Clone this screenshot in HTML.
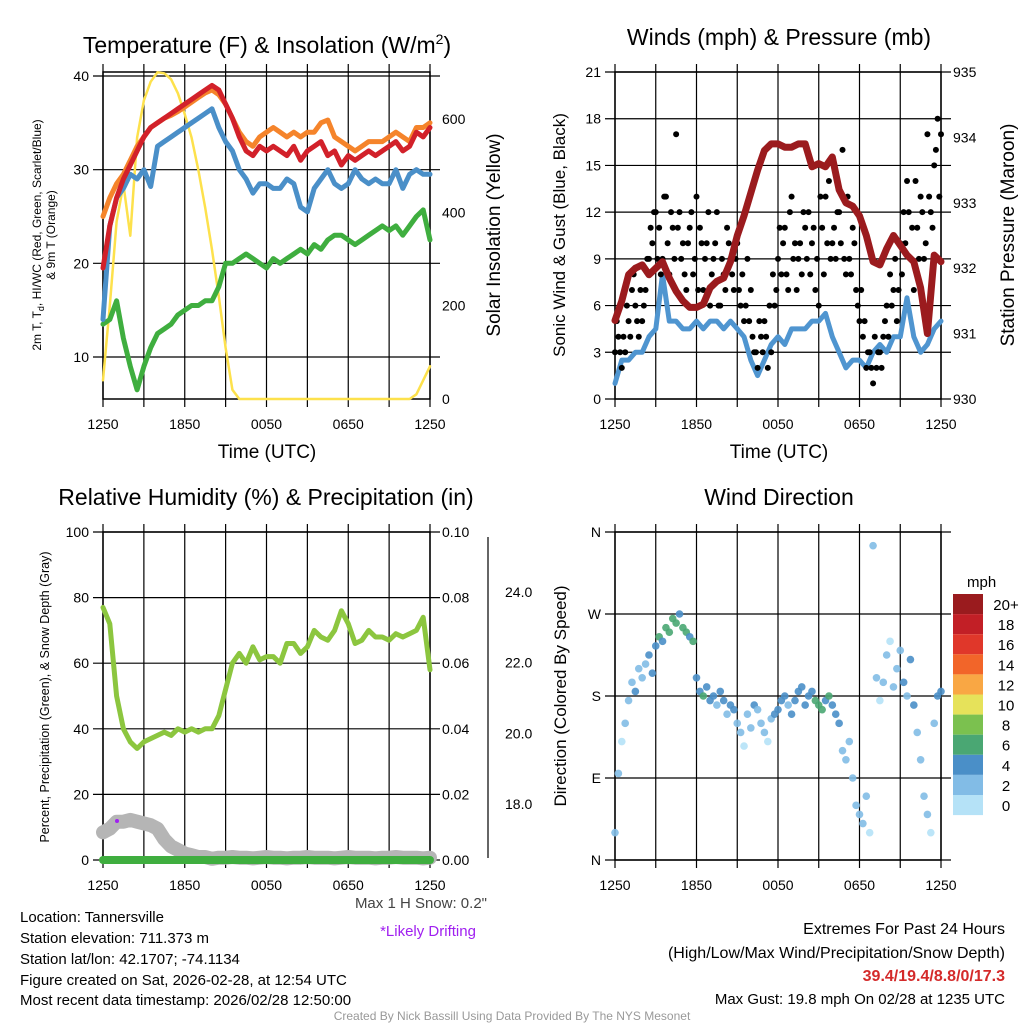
<!DOCTYPE html>
<html><head><meta charset="utf-8"><style>
html,body{margin:0;padding:0;background:#fff;}
svg{display:block;font-family:"Liberation Sans",sans-serif;}
</style></head><body>
<svg id="s" width="1024" height="1024" viewBox="0 0 1024 1024">
<g id="grids"></g>
<g id="marks"></g>
<g id="texts" fill="#000">
<text x="267" y="53" font-size="23" text-anchor="middle">Temperature (F) &amp; Insolation (W/m<tspan font-size="14" dy="-9">2</tspan><tspan dy="9">)</tspan></text>
<text x="779" y="45" font-size="23" text-anchor="middle">Winds (mph) &amp; Pressure (mb)</text>
<text x="266" y="505" font-size="23" text-anchor="middle">Relative Humidity (%) &amp; Precipitation (in)</text>
<text x="779" y="505" font-size="23" text-anchor="middle">Wind Direction</text>
<text x="267" y="458" font-size="19" text-anchor="middle">Time (UTC)</text>
<text x="779" y="458" font-size="19" text-anchor="middle">Time (UTC)</text>
<text transform="translate(41,235) rotate(-90)" font-size="12" text-anchor="middle">2m T, T<tspan font-size="9" dy="3">d</tspan><tspan dy="-3">, HI/WC (Red, Green, Scarlet/Blue)</tspan></text>
<text transform="translate(55,235) rotate(-90)" font-size="12" text-anchor="middle">&amp; 9m T (Orange)</text>
<text transform="translate(500,235) rotate(-90)" font-size="19" text-anchor="middle">Solar Insolation (Yellow)</text>
<text transform="translate(565,235) rotate(-90)" font-size="17" text-anchor="middle">Sonic Wind &amp; Gust (Blue, Black)</text>
<text transform="translate(1014,235) rotate(-90)" font-size="19" text-anchor="middle">Station Pressure (Maroon)</text>
<text transform="translate(49,697) rotate(-90)" font-size="12.5" text-anchor="middle">Percent, Precipitation (Green), &amp; Snow Depth (Gray)</text>
<text transform="translate(566,696) rotate(-90)" font-size="17" text-anchor="middle">Direction (Colored By Speed)</text>
<text x="487" y="908" font-size="15" text-anchor="end" fill="#444">Max 1 H Snow: 0.2"</text>
<text x="428" y="936" font-size="15" text-anchor="middle" fill="#a020f0">*Likely Drifting</text>
<g font-size="15">
<text x="20" y="922">Location: Tannersville</text>
<text x="20" y="943">Station elevation: 711.373 m</text>
<text x="20" y="964">Station lat/lon: 42.1707; -74.1134</text>
<text x="20" y="985">Figure created on Sat, 2026-02-28, at 12:54 UTC</text>
<text x="20" y="1005">Most recent data timestamp: 2026/02/28 12:50:00</text>
</g>
<g font-size="16" text-anchor="end">
<text x="1005" y="934">Extremes For Past 24 Hours</text>
<text x="1005" y="958">(High/Low/Max Wind/Precipitation/Snow Depth)</text>
<text x="1005" y="981" fill="#d42a2a" font-weight="bold">39.4/19.4/8.8/0/17.3</text>
<text x="1005" y="1004" font-size="15">Max Gust: 19.8 mph On 02/28 at 1235 UTC</text>
</g>
<text x="512" y="1020" font-size="12" text-anchor="middle" fill="#999">Created By Nick Bassill Using Data Provided By The NYS Mesonet</text>
<text x="967" y="587" font-size="15">mph</text>
</g>
</svg>
<script>
// ---- data (half-hourly, 1250 UTC -> 1250 UTC) ----
const timeLabels = ["1250","1850","0050","0650","1250"];
const tempRed = [19.5,24,27,29,30.5,32,33.5,34.5,35,35.5,36,36.5,37,37.5,38,38.5,39,38.5,37,35.5,33.5,32,31.5,32.5,32,32.5,32,31.5,32.5,31,32,32.5,33,31.5,32,30.5,31.5,31,31.5,32,31.5,32,32.5,33,32,32.5,34,33.5,34.5];
const tempOrange = [25,27,28.5,29.5,31,32.5,33.5,34.5,35,35.5,35.8,36.2,36.7,37.2,37.7,38.2,38.5,38,37,35.5,34,33,32.5,33.5,34,34.5,34,33.5,34,33.5,34,34,35,35.3,33.5,33,32.5,32,32.5,33,33,33,33.5,34,33.5,33,34.5,34.5,35];
const tempBlue = [14,24,27,28,29.5,29,30,28.2,32.5,33,33.5,34,34.5,35,35.5,36,36.5,34.5,33,32,30,29,27.5,28.5,28.5,28,28,29,28.5,26,25.5,28,29,30,28.5,28,28.5,30,29,28.5,29,28.5,28.5,30,28,29.5,30,29.5,29.5];
const tempGreen = [13.5,14,16,12,9,6.5,9,11,12.5,13,13.5,14.5,15,15.5,15.5,16,16,17.5,20,20,20.5,21,20.5,20,19.5,20.5,20,20.5,21,21.5,21,22,21.5,22.5,23,23,22.5,22,22.5,23,23.5,24,23.5,24,23,24,25,25.7,22.5];
const solar = [40,200,380,460,350,560,640,680,700,698,685,655,610,560,490,410,320,220,110,20,0,0,0,0,0,0,0,0,0,0,0,0,0,0,0,0,0,0,0,0,0,0,0,0,0,0,10,40,70];
const wind = [1,2.5,2.5,3,3,4,4.5,8,5,5,4.5,4.5,5,4.5,5,5,4.5,5,4.5,4,2.5,1.5,2.5,3.5,4,3.5,4.5,4.5,4.5,5,5,5.5,4,3,2,2.5,2.5,2,3,3.5,3,4,4,6.5,4,3,3.5,4.5,5];
const gustA = [3,4,2,3,5,7,6,4,5,7,9,10,12,11,9,13,8,11,17,12,10,7,11,8,13,11,7,10,6,9,12,6,8,11,9,7,10,6,5,9,7,3,2,4,5,2,3,6,9,8,11,7,13,10,9,8,11,12,10,7,6,11,13,14,10,9,12,16,8,9,11,7,5,4,2,3,1,2,3,4,6,8,7,5,10,12,14,9,7,11,13,9,17,12,15,18,17];
const gustB = [5,3,4,6,4,8,5,7,6,9,11,12,9,8,13,10,12,9,11,9,8,10,12,9,7,10,9,12,8,10,6,9,7,10,8,9,7,8,6,5,4,3,5,3,4,6,8,7,11,10,8,12,9,7,10,12,9,8,11,9,13,8,10,9,11,12,10,9,13,8,10,6,7,5,3,2,4,3,2,5,4,6,9,7,8,10,12,11,14,9,12,10,13,11,16,13];
const pressure = [931.2,931.5,931.9,932.0,932.05,931.9,932.0,932.1,931.85,931.65,931.5,931.4,931.4,931.45,931.7,931.8,931.85,932.1,932.5,932.8,933.15,933.5,933.8,933.9,933.9,933.85,933.85,933.9,933.9,933.55,933.6,933.55,933.7,933.2,933.0,932.95,932.8,932.5,932.1,932.05,932.3,932.5,932.35,932.2,932.1,931.7,931.0,932.2,932.1];
const rh = [77,72,50,40,36,34,36,37,38,39,38,40,39,40,39,40,40,44,52,60,63,60,65,61,62,62,60,66,66,63,65,70,68,67,70,76,72,66,67,70,68,68,67,69,68,69,70,74,58];
const snowDepth = [17.2,17.3,17.5,17.5,17.55,17.5,17.45,17.4,17.3,17.0,16.8,16.7,16.6,16.55,16.5,16.5,16.45,16.48,16.48,16.5,16.48,16.48,16.46,16.48,16.5,16.48,16.48,16.46,16.48,16.48,16.5,16.48,16.48,16.48,16.46,16.48,16.5,16.48,16.48,16.48,16.46,16.48,16.48,16.5,16.48,16.48,16.48,16.46,16.48];
const precip = [0,0,0,0,0,0,0,0,0,0,0,0,0,0,0,0,0,0,0,0,0,0,0,0,0,0,0,0,0,0,0,0,0,0,0,0,0,0,0,0,0,0,0,0,0,0,0,0,0];
// wind direction, 15-min
const dirDeg = [30,95,130,150,175,195,185,210,200,215,225,205,235,245,240,255,250,265,260,270,255,250,245,240,200,185,180,190,175,180,170,185,175,160,170,165,150,140,125,160,145,170,165,150,140,130,155,160,165,175,180,170,160,175,185,190,170,180,185,175,170,165,175,180,170,160,150,120,110,130,90,60,50,40,70,30,345,200,175,195,225,240,190,210,230,195,180,220,170,140,110,70,50,30,150,180,185];
const dirSpd = [3,2,1,3,2,3,4,3,2,3,4,5,5,6,5,6,7,6,6,5,7,6,5,6,4,5,6,4,5,4,3,5,4,3,4,4,3,2,1,3,2,4,3,2,2,1,3,4,4,5,4,3,4,4,5,5,4,5,4,6,7,6,5,6,4,5,4,3,2,3,2,3,2,3,2,1,2,3,1,2,2,1,3,2,3,4,3,5,4,3,2,2,2,1,3,4,4];
const cbarLabels = ["20+","18","16","14","12","10","8","6","4","2","0"];
const cbarColors = ["#9a1b1e","#c21f26","#e0372a","#f26529","#f9a744","#e6e25a","#7bc14f","#4aa773","#4a8fc8","#82bce6","#b5e2f7"];

const NS="http://www.w3.org/2000/svg";
const G=document.getElementById('grids'), M=document.getElementById('marks');
function mk(tag,attrs,parent){const e=document.createElementNS(NS,tag);for(const k in attrs)e.setAttribute(k,attrs[k]);(parent||M).appendChild(e);return e;}
function lin(d0,d1,r0,r1){return v=>r0+(v-d0)/(d1-d0)*(r1-r0);}

function panel(x0,x1,y0,y1,name){
  const xs=lin(0,48,x0,x1);
  for(let h=0;h<=8;h++){const x=xs(h*6);const l=mk('line',{x1:x,x2:x,y1:y0-8,y2:y1+8,stroke:'#000','stroke-width':1.2},G);
    
    }
  timeLabels.forEach((t,i)=>{const tx=mk('text',{x:xs(i*12),y:y1+30,'font-size':14,'text-anchor':'middle'},G);tx.textContent=t;
    
    });
  const b=mk('rect',{x:x0,y:y0,width:x1-x0,height:y1-y0,fill:'none',stroke:'#000','stroke-width':1.5},G);
  
  
  return xs;
}
function hgrid(x0,x1,y,label,side,name,grid){
  if(grid){const l=mk('line',{x1:x0-10,x2:x1+10,y1:y,y2:y,stroke:'#000','stroke-width':1.2},G);
  
  }
  const t=mk('text',{x:side==='l'?x0-14:x1+12,y:y+5,'font-size':14,'text-anchor':side==='l'?'end':'start'},G);t.textContent=label;
  
  
}
function path(xs,ys,arr,stroke,w,name){
  const d=arr.map((v,i)=>(i?'L':'M')+xs(i).toFixed(1)+','+ys(v).toFixed(1)).join('');
  const p=mk('path',{d:d,fill:'none',stroke:stroke,'stroke-width':w,'stroke-linejoin':'round','stroke-linecap':'round'});
  
  
}

// ---- Panel 1: temperature ----
{const xs=panel(103,430,72,399,'temp');
 const yt=lin(40,10,76,357), ys=lin(0,600,399,119);
 [10,20,30,40].forEach(v=>hgrid(103,430,yt(v),String(v),'l','temp',true));
 [0,200,400,600].forEach(v=>hgrid(103,430,ys(v),String(v),'r','solar',false));
 path(xs,ys,solar,'#fde14c',2.5,'solar-line');
 path(xs,yt,tempGreen,'#3fae3f',5,'dewpoint-line');
 path(xs,yt,tempBlue,'#4a8fc8',5,'windchill-line');
 path(xs,yt,tempOrange,'#f5842b',5,'temp-9m-line');
 path(xs,yt,tempRed,'#d2212a',5,'temp-2m-line');}

// ---- Panel 2: winds ----
{const xs=panel(615,941,72,399,'wind');
 const yw=lin(0,21,399,72), yp=lin(930,935,399,72);
 [0,3,6,9,12,15,18,21].forEach(v=>hgrid(615,941,yw(v),String(v),'l','wind',true));
 [930,931,932,933,934,935].forEach(v=>hgrid(615,941,yp(v),String(v),'r','pressure',false));
 path(xs,yw,wind,'#4f95d0',5,'wind-speed-line');
 const xq=lin(0,96,615,941);
 gustA.forEach((v,i)=>{const c=mk('circle',{cx:xq(i),cy:yw(v),r:3,fill:'#000'});
   
   });
 gustB.forEach((v,i)=>{const c=mk('circle',{cx:xq(i+0.5),cy:yw(v),r:3,fill:'#000'});
   
   });
 path(xs,yp,pressure,'#9b1b1e',7,'pressure-line');}

// ---- Panel 3: humidity ----
{const xs=panel(103,430,532,860,'rh');
 const yr=lin(0,100,860,532), yq=lin(0,0.1,860,532), yd=lin(24,18,592,804);
 [0,20,40,60,80,100].forEach(v=>hgrid(103,430,yr(v),String(v),'l','rh',true));
 [0,0.02,0.04,0.06,0.08,0.10].forEach(v=>hgrid(103,430,yq(v),v.toFixed(2),'r','precip',false));
 const ax=mk('line',{x1:488,x2:488,y1:537,y2:858,stroke:'#000','stroke-width':1.2},G);
 
 
 [18,20,22,24].forEach(v=>{const t=mk('text',{x:505,y:yd(v)+5,'font-size':14},G);t.textContent=v.toFixed(1);
   
   });
 path(xs,yd,snowDepth,'#b5b5b5',14,'snow-depth-line');
 path(xs,yr,rh,'#8cc63f',5,'rh-line');
 path(xs,yq,precip,'#3fae3f',8,'precip-line');
 const pd=mk('circle',{cx:117,cy:821,r:2,fill:'#a020f0'});
 
 }

// ---- Panel 4: direction ----
{panel(615,941,532,860,'dir');
 const yd=lin(0,360,860,532);
 ['N','E','S','W','N'].forEach((lab,i)=>hgrid(615,941,yd(i*90),lab,'l','dir',true));
 const xq=lin(0,96,615,941);
 function col(s){const idx=Math.min(10,Math.floor(s/2));return cbarColors[10-idx];}
 dirDeg.forEach((v,i)=>{const c=mk('circle',{cx:xq(i),cy:yd(v),r:3.8,fill:col(dirSpd[i]),'fill-opacity':0.9});
   
   });
 cbarColors.forEach((c,i)=>{const r=mk('rect',{x:953,y:594+i*20.1,width:30,height:20.1,fill:c},G);
   
   
   const t=mk('text',{x:1006,y:594+i*20.1+16,'font-size':15,'text-anchor':'middle'},G);t.textContent=cbarLabels[i];
   
   });}
</script>
</body></html>
